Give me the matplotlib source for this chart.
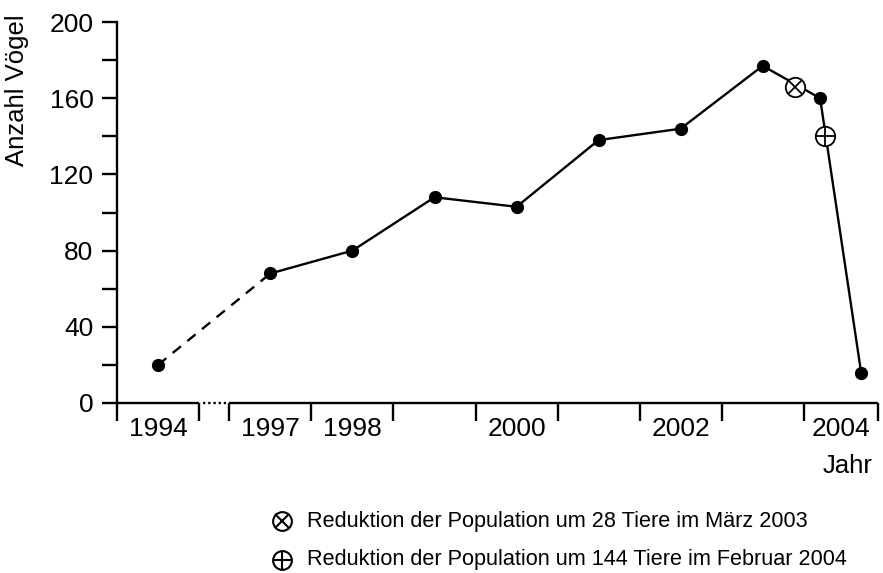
import numpy as np
import matplotlib
matplotlib.use("Agg")
import matplotlib.pyplot as plt
from matplotlib.lines import Line2D
import matplotlib.transforms as mtransforms

plt.rcParams['font.family'] = ['Liberation Sans', 'DejaVu Sans']

# ---- data ----
years = [1994.5, 1997.5, 1998.5, 1999.5, 2000.5, 2001.5, 2002.5, 2003.5, 2004.2, 2004.7]
counts = [20, 68, 80, 108, 103, 138, 144, 177, 160, 16]
event_years = [2003.9, 2004.26]
event_counts = [166, 140]
event_markers = ['x', '+']
tick_bounds = [1994, 1995, 1997, 1998, 1999, 2000, 2001, 2002, 2003, 2004, 2004.9]
label_years = [1994.5, 1997.5, 1998.5, 2000.5, 2002.5, 2004.45]
label_texts = ['1994', '1997', '1998', '2000', '2002', '2004']
yticks_major = [0, 40, 80, 120, 160, 200]
yticks_minor = [20, 60, 100, 140, 180]
legend_texts = ['Reduktion der Population um 28 Tiere im März 2003',
                'Reduktion der Population um 144 Tiere im Februar 2004']

GAP_OFFSET = 1.37  # axis position where 1997 starts (broken axis)

def pos(y):
    y = np.asarray(y, dtype=float)
    return np.where(y < 1996, y - 1994, y - 1997 + GAP_OFFSET)

W, H = 883, 573
fig = plt.figure(figsize=(W / 100, H / 100), dpi=100)
ax = fig.add_axes([117 / W, 1 - 403 / H, 763 / W, 381 / H])
ax.set_xlim(0, 9.3)
ax.set_ylim(0, 200)

xp = pos(years)
# dashed segment 1994 -> 1997
ax.plot(xp[:2], counts[:2], color='black', lw=1.7, ls=(0, (4.5, 3.5)), clip_on=False)
# solid remainder
ax.plot(xp[1:], counts[1:], color='black', lw=1.7, clip_on=False)
ax.plot(xp, counts, 'o', color='black', ms=8.5, clip_on=False, zorder=4)

# event markers
ep = pos(event_years)
for x, c, m in zip(ep, event_counts, event_markers):
    ax.plot([x], [c], 'o', ms=14, mfc='white', mec='black', mew=1.3, zorder=5)
    ax.plot([x], [c], m, ms=14 * (0.70 if m == 'x' else 1.0), color='black', mew=1.3, zorder=6)

# spines
for s in ['top', 'right', 'bottom']:
    ax.spines[s].set_visible(False)
ax.spines['left'].set_linewidth(1.7)

# broken x axis line
trans = mtransforms.blended_transform_factory(ax.transData, ax.transAxes)
b = pos(tick_bounds)
ax.plot([b[0], b[1]], [0, 0], color='black', lw=1.7, transform=trans, clip_on=False, solid_capstyle='butt')
ax.plot([b[1] + 0.05, b[2] - 0.04], [0, 0], color='black', lw=1.7, ls=(0, (1, 1.2)), transform=trans, clip_on=False)
ax.plot([b[2], b[-1]], [0, 0], color='black', lw=1.7, transform=trans, clip_on=False, solid_capstyle='butt')

# x ticks
ax.set_xticks(b)
ax.set_xticklabels([''] * len(b))
ax.set_xticks(pos(label_years), label_texts, minor=True)
ax.tick_params(axis='x', which='major', direction='out', length=13, width=1.7)
ax.tick_params(axis='x', which='minor', length=0, pad=10, labelsize=19)

# y ticks
ax.set_yticks(yticks_major)
ax.set_yticks(yticks_minor, minor=True)
ax.tick_params(axis='y', which='both', direction='out', length=11, width=1.7)
ax.tick_params(axis='y', which='major', labelsize=19, pad=6)

fig.text(17 / W, 1 - 90 / H, 'Anzahl Vögel', rotation=90, ha='center', va='center', fontsize=18.5)
fig.text(848 / W, 1 - 466 / H, 'Jahr', ha='center', va='center', fontsize=18.5)

# legend
for i, (txt, m) in enumerate(zip(legend_texts, event_markers)):
    yy = 1 - (521 + 39 * i) / H
    xx = 282 / W
    fig.add_artist(Line2D([xx], [yy], transform=fig.transFigure, marker='o', ms=13.5,
                          mfc='white', mec='black', mew=1.5, ls='none'))
    fig.add_artist(Line2D([xx], [yy], transform=fig.transFigure, marker=m,
                          ms=13.5 * (0.70 if m == 'x' else 1.0), color='black', mew=1.5, ls='none'))
    fig.text(307 / W, yy, txt, ha='left', va='center', fontsize=15.6)

fig.savefig('out.png', dpi=100)
